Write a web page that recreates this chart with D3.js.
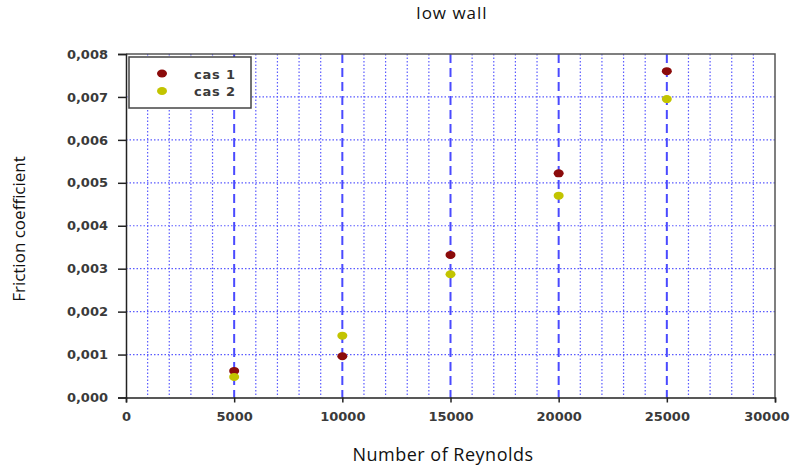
<!DOCTYPE html>
<html>
<head>
<meta charset="utf-8">
<script src="https://cdn.jsdelivr.net/npm/d3@7/dist/d3.min.js"></script>
<style>
  html, body { margin: 0; padding: 0; background: #fff; }
  svg { display: block; }
  .tick-label { font-family: "DejaVu Sans", Verdana, sans-serif; font-weight: bold; font-size: 13px; fill: #3a3a3a; }
  .legend-label { font-family: "DejaVu Sans", Verdana, sans-serif; font-weight: bold; font-size: 13px; fill: #3a3a3a; letter-spacing: 0.8px; }
  .title, .axis-title { font-family: "Open Sans", "Liberation Sans", sans-serif; fill: #111; }
</style>
</head>
<body>
<svg id="chart" width="801" height="467"></svg>
<script>
// Reynolds numbers at which the friction coefficient was computed
const reynolds = [5000, 10000, 15000, 20000, 25000];
// Friction coefficient, case 1 and case 2
const cas1 = [0.00062, 0.00096, 0.00332, 0.00522, 0.0076];
const cas2 = [0.00048, 0.00144, 0.00287, 0.0047, 0.00695];
const seriesNames = ["cas 1", "cas 2"];
const seriesColors = ["#8b0b0b", "#c2c400"];
const xTicks = [0, 5000, 10000, 15000, 20000, 25000, 30000];
const yTicks = [0, 0.001, 0.002, 0.003, 0.004, 0.005, 0.006, 0.007, 0.008];

const svg = d3.select("#chart");
const plotLeft = 126, plotRight = 775, plotTop = 54, plotBottom = 397.5;

const x = d3.scaleLinear().domain([0, 30000]).range([plotLeft, plotRight]);
const y = d3.scaleLinear().domain([0, 0.008]).range([plotBottom, plotTop]);

const grid = svg.append("g");
const blue = "#5a5aff";

// minor vertical grid every 1000
const minorX = d3.range(1000, 30000, 1000).filter(v => v % 5000 !== 0);
grid.selectAll(".vminor").data(minorX).enter().append("line")
  .attr("x1", d => x(d)).attr("x2", d => x(d))
  .attr("y1", plotTop).attr("y2", plotBottom)
  .attr("stroke", blue).attr("stroke-width", 1.2)
  .attr("stroke-dasharray", "1.5,2");

// horizontal grid at every y tick
grid.selectAll(".hgrid").data(yTicks.filter(v => v > 0 && v < 0.008)).enter().append("line")
  .attr("x1", plotLeft).attr("x2", plotRight)
  .attr("y1", d => y(d)).attr("y2", d => y(d))
  .attr("stroke", blue).attr("stroke-width", 1.2)
  .attr("stroke-dasharray", "1.5,2");

// major vertical grid every 5000
grid.selectAll(".vmajor").data(xTicks.filter(v => v > 0 && v < 30000)).enter().append("line")
  .attr("x1", d => x(d)).attr("x2", d => x(d))
  .attr("y1", plotTop).attr("y2", plotBottom)
  .attr("stroke", "#4a4aff").attr("stroke-width", 2)
  .attr("stroke-dasharray", "9,5");

// frame: top and right borders
svg.append("path")
  .attr("d", `M${plotLeft},${plotTop}H${plotRight}V${plotBottom}`)
  .attr("fill", "none").attr("stroke", "#555").attr("stroke-width", 1.5);

// x axis
const xAxis = d3.axisBottom(x).tickValues(xTicks).tickSize(5).tickPadding(9).tickFormat(d3.format("d"));
const gx = svg.append("g").attr("transform", `translate(0,${plotBottom})`).call(xAxis);
gx.attr("font-size", null).attr("font-family", null);
gx.select(".domain").attr("stroke", "#222").attr("stroke-width", 1.5);
gx.selectAll(".tick line").attr("stroke", "#222").attr("stroke-width", 1.5);
gx.selectAll(".tick text").attr("class", "tick-label").attr("fill", null)
  // keep the last label inside the page
  .attr("text-anchor", d => d === 30000 ? "end" : "middle")
  .attr("x", d => d === 30000 ? 14 : 0);

// y axis
const yFmt = d => d3.format(".3f")(d).replace(".", ",");
const yAxis = d3.axisLeft(y).tickValues(yTicks).tickSize(8).tickPadding(10).tickFormat(yFmt);
const gy = svg.append("g").attr("transform", `translate(${plotLeft},0)`).call(yAxis);
gy.attr("font-size", null).attr("font-family", null);
gy.select(".domain").attr("stroke", "#222").attr("stroke-width", 1.5);
gy.selectAll(".tick line").attr("stroke", "#222").attr("stroke-width", 1.5);
gy.selectAll(".tick text").attr("class", "tick-label").attr("fill", null);

// data points
[cas1, cas2].forEach((vals, i) => {
  svg.append("g").selectAll("ellipse").data(vals).enter().append("ellipse")
    .attr("cx", (d, j) => x(reynolds[j]))
    .attr("cy", d => y(d))
    .attr("rx", 5).attr("ry", 4)
    .attr("fill", seriesColors[i]);
});

// legend
const lg = svg.append("g");
lg.append("rect").attr("x", 129).attr("y", 57).attr("width", 122).attr("height", 51)
  .attr("fill", "#fff").attr("stroke", "#444").attr("stroke-width", 1.5);
seriesNames.forEach((name, i) => {
  const yy = 73.5 + i * 17.5;
  lg.append("ellipse").attr("cx", 162).attr("cy", yy).attr("rx", 5).attr("ry", 4).attr("fill", seriesColors[i]);
  lg.append("text").attr("class", "legend-label").attr("x", 194).attr("y", yy + 5).text(name);
});

// titles
svg.append("text").attr("class", "title").attr("x", 452).attr("y", 19)
  .attr("text-anchor", "middle").attr("font-size", 17).attr("letter-spacing", 1).text("low wall");
svg.append("text").attr("class", "axis-title").attr("x", 443).attr("y", 461)
  .attr("text-anchor", "middle").attr("font-size", 18).attr("letter-spacing", 0.5).text("Number of Reynolds");
svg.append("text").attr("class", "axis-title")
  .attr("transform", "translate(25,229) rotate(-90)")
  .attr("text-anchor", "middle").attr("font-size", 17).text("Friction coefficient");
</script>
</body>
</html>
